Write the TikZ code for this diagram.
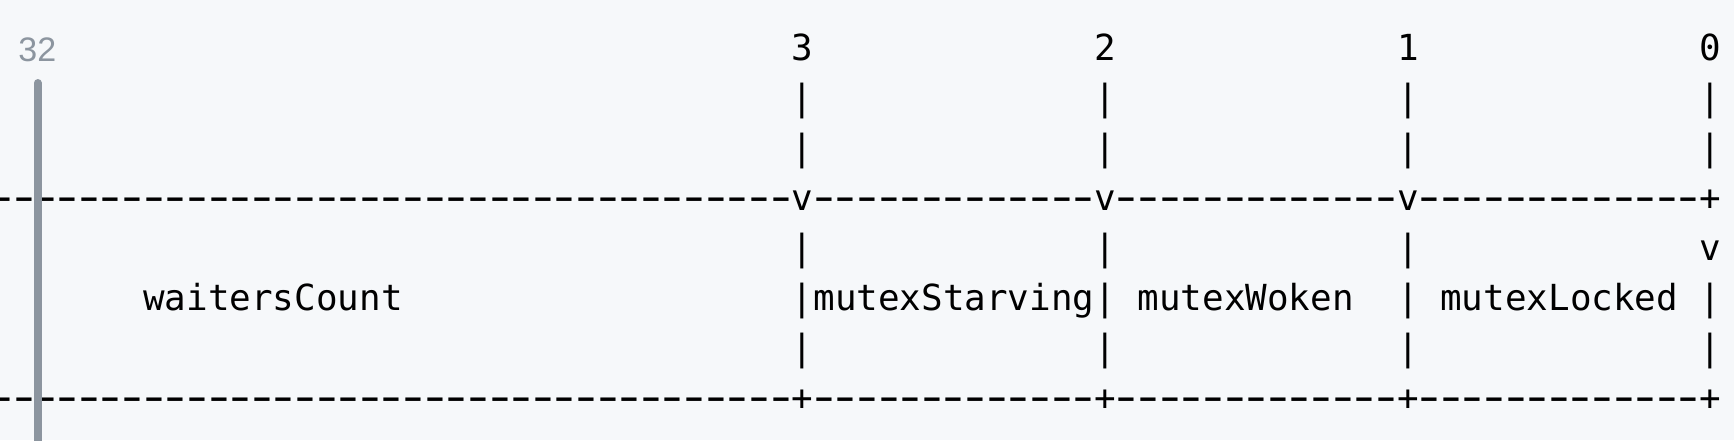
\documentclass[tikz,border=0pt]{standalone}
\usepackage{fontspec}
\usepackage{graphicx}
\setmonofont{DejaVu Sans Mono}
\newfontfamily\numfont{Liberation Sans}
\newcommand\dg{\makebox[10.8085pt][c]{\raisebox{-0.95pt}{\scalebox{1.66}[1.2]{-}}}}
\ExplSyntaxOn
\NewDocumentCommand\dashrun{m}{\prg_replicate:nn{#1}{\dg}}
\ExplSyntaxOff
\definecolor{bg}{HTML}{F6F8FA}
\definecolor{gutter}{HTML}{8C959F}
\begin{document}
\begin{tikzpicture}[x=0.5pt,y=-0.5pt,
  asc/.style={anchor=base west,inner sep=0pt,outer sep=0pt,
    font=\ttfamily\fontsize{17.95pt}{20pt}\selectfont,text=black},
  gnum/.style={anchor=base,inner sep=0pt,outer sep=0pt,
    font=\numfont\fontsize{17pt}{19pt}\selectfont,text=gutter},
  bar/.style={draw=gutter,line width=3.85pt,line cap=round}]
\useasboundingbox (0,0) rectangle (1734,440);
\fill[bg] (0,0) rectangle (1734,440);
\begin{scope}
\clip (0,0) rectangle (1734,440);
% row 1: bit numbers
\node[asc] (n3) at ({791.8+21.617*0},60) {3};
\node[asc] (n2) at ({791.8+21.617*14},60) {2};
\node[asc] (n1) at ({791.8+21.617*28},60) {1};
\node[asc] (n0) at ({791.8+21.617*42},60) {0};
% rows 2,3
\foreach \c/\n in {0/a,14/b,28/c,42/d}{
  \node[asc] (rb\n) at ({791.8+21.617*\c},110) {|};
  \node[asc] (rc\n) at ({791.8+21.617*\c},160) {|};
}
% row 4: top border
\node[asc] (top) at ({791.8+21.617*(-37)},210)
  {\dashrun{37}v\dashrun{13}v\dashrun{13}v\dashrun{13}+};
% row 5
\foreach \c/\n in {0/a,14/b,28/c}{
  \node[asc] (re\n) at ({791.8+21.617*\c},260) {|};
}
\node[asc] (red) at ({791.8+21.617*42},260) {v};
% row 6: fields
\foreach \c/\n in {0/a,14/b,28/c,42/d}{
  \node[asc] (rf\n) at ({791.8+21.617*\c},310) {|};
}
\node[asc] (wc) at ({791.8+21.617*(-30)},310) {waitersCount};
\node[asc] (ms) at ({791.8+21.617*1},310) {mutexStarving};
\node[asc] (mw) at ({791.8+21.617*16},310) {mutexWoken};
\node[asc] (ml) at ({791.8+21.617*30},310) {mutexLocked};
% row 7
\foreach \c/\n in {0/a,14/b,28/c,42/d}{
  \node[asc] (rg\n) at ({791.8+21.617*\c},360) {|};
}
% row 8: bottom border
\node[asc] (bot) at ({791.8+21.617*(-37)},410)
  {\dashrun{37}+\dashrun{13}+\dashrun{13}+\dashrun{13}+};
% gutter marker
\coordinate (bartop) at (37.8,82.9);
\coordinate (barbot) at (37.8,460);
\draw[bar] (bartop) -- (barbot);
\node[gnum] (g32) at (37.3,61.2) {32};
\end{scope}
\end{tikzpicture}
\end{document}
